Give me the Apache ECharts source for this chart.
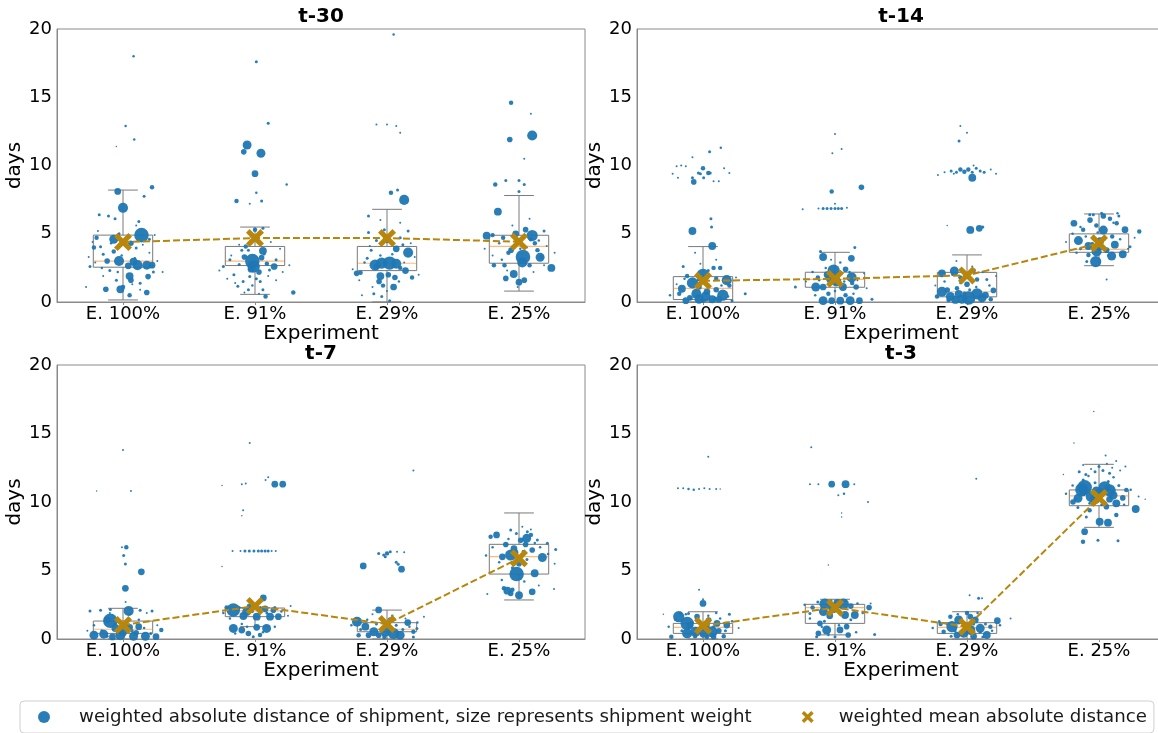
<!DOCTYPE html>
<html><head><meta charset="utf-8">
<script src="https://cdn.jsdelivr.net/npm/echarts@6/dist/echarts.min.js"></script>
<style>html,body{margin:0;padding:0;background:#fff}#c{width:1158px;height:733px}</style>
</head><body><div id="c"></div>
<script>
// ---------- DATA ----------
const categories = ['E. 100%', 'E. 91%', 'E. 29%', 'E. 25%'];
const panelTitles = ['t-30', 't-14', 't-7', 't-3'];
const yMin = 0, yMax = 20, yStep = 5;
const xAxisTitle = 'Experiment';
const yAxisTitle = 'days';
const pointsName = 'weighted absolute distance of shipment, size represents shipment weight';
const meanName = 'weighted mean absolute distance';

// box stats per experiment: [whiskerLow, Q1, median, Q3, whiskerHigh]
const boxT30 = [[0.15,2.55,3.0,4.9,8.2],[0.56,2.67,3.0,4.07,5.49],[0.0,2.3,2.84,4.07,6.79],[0.8,2.84,4.08,4.89,7.8]];
const boxT14 = [[0.0,0.18,1.0,1.86,4.06],[0.0,1.08,1.66,2.18,3.64],[0.0,0.38,0.75,2.17,3.45],[2.66,3.64,3.86,4.99,6.45]];
const boxT7  = [[0.0,0.41,0.71,1.31,2.24],[0.9,1.63,2.06,2.26,2.3],[0.0,0.53,0.71,1.19,2.11],[2.85,4.74,6.01,6.91,9.2]];
const boxT3  = [[0.0,0.41,0.85,1.14,1.99],[0.3,1.14,2.29,2.53,2.9],[0.0,0.41,0.85,1.19,1.99],[8.15,9.73,10.44,10.88,12.75]];

// weighted mean absolute distance per experiment
const meanT30 = [4.39, 4.68, 4.68, 4.42];
const meanT14 = [1.55, 1.7, 1.95, 4.3];
const meanT7  = [1.02, 2.4, 1.09, 5.89];
const meanT3  = [0.97, 2.29, 0.9, 10.3];

// shipments: [experimentIndex, jitter, days, weightSize]
const ptsT30 = [
[0,0.14,4.9,13],[0,0.0,6.9,9],[0,-0.04,8.1,6],[0,-0.07,4.6,8],[0,-0.03,3.0,9],[0,0.08,2.95,7],[0,0.11,2.7,9],[0,0.18,2.7,8],[0,0.22,2.7,6],[0,0.04,2.65,6],[0,-0.12,3.0,5],[0,0.05,1.9,7],[0,0.06,1.6,5],[0,-0.02,0.93,7],[0,-0.13,0.93,5],[0,0.18,0.7,5],[0,0.05,0.5,4],[0,0.22,8.4,4],[0,0.16,7.75,3],[0,0.19,1.86,5],[0,-0.22,4.0,4],[0,-0.18,6.4,3],[0,-0.11,6.3,3],[0,-0.06,6.1,3],[0,0.12,5.9,3],[0,-0.17,4.05,3],[0,-0.15,3.5,3],[0,-0.07,3.7,4],[0,-0.1,2.3,3],[0,-0.05,1.6,3],[0,0.0,1.1,4],[0,0.13,1.38,3],[0,0.23,2.2,3],[0,0.1,3.95,3],[0,0.08,18.0,2.5],[0,0.02,12.9,2.5],[0,0.085,11.9,2.5],[0,-0.05,11.4,1.5],[0,-0.2,4.7,4],[0,-0.25,2.6,3],[0,0.06,4.3,5],[0,-0.03,5.0,3],[0,0.2,4.6,3],[0,-0.28,1.1,2],[0,0.3,2.2,2],
[1,-0.02,3.0,13],[1,-0.01,2.6,11],[1,-0.06,11.5,8],[1,-0.085,11.0,5],[1,0.045,10.9,8],[1,0.0,9.4,6],[1,0.1,13.1,3],[1,0.01,17.6,3],[1,0.24,8.6,2.5],[1,-0.14,7.4,4],[1,-0.04,7.2,2],[1,0.05,7.4,3],[1,0.01,8.0,2.5],[1,0.06,3.75,7],[1,0.05,3.25,5],[1,0.145,2.6,6],[1,-0.08,3.3,5],[1,0.0,5.3,4],[1,0.06,5.4,3],[1,-0.07,4.07,4],[1,-0.16,2.0,3],[1,-0.13,1.15,3],[1,-0.09,1.5,3],[1,-0.04,1.86,3],[1,0.06,0.9,3],[1,0.08,0.4,4],[1,0.29,0.7,4],[1,0.04,1.5,3],[1,0.11,2.35,3],[1,0.16,3.1,3],[1,-0.24,2.6,3],[1,-0.19,3.1,3],[1,-0.1,3.8,3],[1,-0.05,3.8,3],[1,0.01,1.7,3],[1,-0.05,0.9,3],[1,0.03,2.2,5],[1,-0.03,2.4,6],[1,0.09,2.8,4],[1,-0.12,2.75,3],
[2,-0.04,2.85,10],[2,0.02,2.85,12],[2,0.07,2.8,9],[2,-0.09,2.7,10],[2,0.16,3.62,9],[2,0.13,7.48,9],[2,0.07,3.9,6],[2,-0.05,1.9,7],[2,-0.08,2.6,5],[2,-0.23,2.1,5],[2,-0.2,2.15,4],[2,0.05,1.1,6],[2,0.14,2.3,6],[2,0.19,1.8,4],[2,0.03,8.0,4],[2,0.08,8.2,3],[2,-0.14,6.3,3],[2,-0.06,1.5,5],[2,-0.03,1.2,4],[2,0.06,1.8,5],[2,0.01,2.0,5],[2,-0.12,3.8,3],[2,-0.08,4.5,3],[2,-0.02,5.3,3],[2,0.1,4.7,3],[2,-0.14,5.1,3],[2,0.16,5.2,3],[2,-0.1,0.6,3],[2,-0.04,0.4,3],[2,0.05,19.6,2.5],[2,-0.08,13.0,2],[2,0.0,13.0,2],[2,0.07,12.9,2],[2,0.1,12.4,2],[2,0.02,0.1,3],[2,0.1,2.5,4],[2,-0.15,3.2,3],[2,0.12,4.2,3],
[3,0.03,3.3,13],[3,0.025,2.9,9],[3,0.1,4.87,10],[3,0.16,3.28,8],[3,-0.04,2.05,7],[3,-0.16,6.62,7],[3,-0.245,4.86,7],[3,0.245,2.5,7],[3,0.0,1.45,6],[3,-0.1,1.73,5],[3,0.04,1.6,5],[3,-0.06,3.8,5],[3,-0.08,3.6,4],[3,0.05,5.3,5],[3,-0.025,5.0,6],[3,-0.12,4.7,4],[3,-0.18,8.6,4],[3,-0.1,8.9,3],[3,0.0,8.9,3],[3,0.04,8.6,3],[3,0.0,8.1,3],[3,0.09,4.6,4],[3,0.14,3.8,4],[3,0.19,5.2,3],[3,-0.19,2.7,4],[3,-0.11,2.7,4],[3,0.08,2.7,4],[3,-0.06,14.6,4],[3,0.1,12.2,9],[3,-0.07,11.9,5],[3,0.09,13.8,2],[3,0.04,10.5,2],[3,-0.2,4.9,4],[3,0.0,4.5,4],[3,0.12,4.3,4],[3,0.17,3.3,4]
];
const smallT30 = [
[0,-0.26,3.3,2],[0,-0.21,2.9,2],[0,-0.16,2.5,2.5],[0,-0.09,4.3,2.5],[0,-0.01,3.4,2.5],[0,0.03,4.1,2],[0,0.09,3.2,2.5],[0,0.15,4.2,2],[0,0.2,3.6,2],[0,0.26,3.0,2],[0,-0.19,5.2,2],[0,0.1,5.6,2],[0,-0.04,2.2,2.5],[0,0.07,1.3,2],[0,-0.15,1.9,2],[0,0.13,0.9,2],[0,0.24,4.9,2],[0,-0.23,4.4,2],
[1,-0.27,2.3,2],[1,-0.21,1.7,2],[1,-0.15,1.4,2],[1,-0.08,0.7,2],[1,-0.02,1.2,2.5],[1,0.03,0.6,2],[1,0.1,1.9,2],[1,0.16,1.6,2],[1,0.21,2.2,2],[1,0.26,2.7,2],[1,-0.12,4.2,2],[1,0.12,4.4,2],[1,-0.03,4.8,2.5],[1,0.07,3.5,2.5],[1,-0.18,3.4,2],[1,0.19,3.9,2],
[2,-0.26,2.4,2],[2,-0.21,1.6,2],[2,-0.17,2.9,2.5],[2,-0.11,1.1,2],[2,-0.05,3.4,2.5],[2,0.0,0.8,2],[2,0.04,3.5,2.5],[2,0.09,1.5,2.5],[2,0.13,2.9,2],[2,0.18,4.3,2],[2,0.24,2.0,2],[2,-0.13,4.1,2],[2,0.0,4.4,2.5],[2,-0.05,6.0,2],[2,0.1,5.8,2],[2,0.21,3.3,2],[2,-0.19,0.5,2],
[3,-0.26,3.9,2],[3,-0.2,3.4,2],[3,-0.15,4.3,2.5],[3,-0.09,2.3,2],[3,-0.03,4.2,2.5],[3,0.01,3.9,2.5],[3,0.06,4.0,2],[3,0.11,2.2,2],[3,0.15,4.5,2.5],[3,0.21,4.1,2],[3,0.27,3.6,2],[3,-0.05,5.6,2],[3,0.08,6.1,2],[3,-0.13,3.1,2.5],[3,0.19,2.7,2],[3,-0.01,1.1,2]
];
const ptsT14 = [
[0,0.0,1.95,12],[0,-0.08,1.4,10],[0,0.18,1.6,9],[0,0.15,0.5,10],[0,-0.16,0.97,7],[0,-0.05,0.6,9],[0,0.02,0.4,9],[0,-0.03,0.2,8],[0,-0.13,0.1,6],[0,0.07,0.2,7],[0,-0.08,5.2,7],[0,0.07,4.1,7],[0,0.06,6.1,3],[0,0.065,5.5,3],[0,0.03,0.75,6],[0,0.1,0.9,5],[0,0.08,2.5,4],[0,0.13,2.5,4],[0,0.04,2.3,3],[0,-0.12,1.9,4],[0,0.32,0.6,3],[0,-0.15,2.6,3],[0,-0.2,9.95,2],[0,-0.165,10.0,2],[0,-0.13,9.95,2],[0,0.0,9.8,4],[0,0.04,9.45,4],[0,0.055,9.45,3],[0,-0.02,9.4,3],[0,-0.035,9.45,3],[0,-0.07,8.8,5],[0,-0.23,9.4,2],[0,-0.19,9.1,2],[0,-0.08,9.1,3],[0,0.005,9.1,3],[0,0.08,8.85,2],[0,0.12,8.85,2],[0,0.16,9.8,2],[0,0.2,9.45,2],[0,0.05,11.0,3],[0,0.135,11.3,2.5],[0,-0.08,10.6,2],[0,-0.1,0.3,5],[0,0.12,0.2,6],[0,-0.18,0.6,4],[0,0.2,1.2,4],[0,-0.03,1.1,5],[0,0.1,1.7,4],
[1,-0.01,2.3,11],[1,-0.025,1.7,10],[1,0.01,1.5,9],[1,-0.09,3.3,7],[1,0.124,3.2,6],[1,0.126,1.8,9],[1,-0.146,1.1,8],[1,-0.09,1.1,6],[1,0.06,1.1,7],[1,0.16,1.1,5],[1,-0.09,0.1,8],[1,0.04,0.1,7],[1,0.115,0.1,8],[1,-0.025,0.1,6],[1,0.185,0.1,6],[1,-0.11,3.7,3],[1,0.15,4.0,3],[1,0.2,8.4,5],[1,-0.025,8.1,4],[1,-0.125,6.85,2],[1,-0.09,6.85,3],[1,-0.06,6.85,3],[1,-0.03,6.85,3],[1,0.0,6.85,3],[1,0.025,6.85,3],[1,0.05,6.85,3],[1,0.09,6.9,2],[1,-0.245,6.8,2],[1,0.0,7.2,2],[1,-0.02,10.9,2],[1,0.05,11.2,2],[1,0.0,12.3,2],[1,-0.3,1.1,3],[1,0.28,0.2,3],[1,-0.06,2.0,6],[1,0.08,2.4,5],[1,0.13,1.4,4],[1,-0.13,1.8,4],[1,-0.05,0.6,4],[1,0.08,0.5,4],
[2,0.025,5.28,7],[2,0.093,5.4,6],[2,0.12,5.5,3],[2,-0.096,2.27,8],[2,-0.19,2.1,7],[2,0.05,2.3,4],[2,0.076,1.65,4],[2,0.15,1.65,3],[2,-0.15,0.88,5],[2,-0.076,1.0,4],[2,-0.19,0.75,9],[2,-0.126,0.4,8],[2,-0.063,0.6,7],[2,0.013,0.3,12],[2,0.076,0.6,10],[2,0.114,0.3,8],[2,-0.038,0.2,8],[2,-0.088,0.15,7],[2,0.14,0.5,6],[2,0.2,0.85,5],[2,-0.227,0.4,4],
[2,-0.22,9.3,2],[2,-0.17,9.5,2],[2,-0.12,9.6,3],[2,-0.08,9.5,3],[2,-0.05,9.7,4],[2,-0.02,9.55,4],[2,0.01,9.7,4],[2,0.04,9.5,3],[2,0.07,9.8,3],[2,0.1,9.6,3],[2,0.13,9.5,3],[2,0.18,9.7,2],[2,0.22,9.4,2],[2,0.04,9.1,7],[2,-0.1,9.4,2],[2,0.05,10.0,2],[2,-0.05,12.9,2],[2,0.0,12.4,2],[2,-0.06,11.8,3],[2,-0.15,5.6,1.5],[2,0.0,1.3,5],[2,-0.05,1.8,4],
[3,-0.025,2.96,10],[3,0.096,3.37,8],[3,0.18,3.5,7],[3,-0.156,4.5,8],[3,-0.08,4.1,7],[3,-0.018,3.7,9],[3,0.033,5.27,8],[3,0.12,4.2,7],[3,0.008,4.45,7],[3,0.197,5.3,6],[3,-0.19,5.77,6],[3,0.305,5.16,4],[3,-0.068,6.0,5],[3,0.083,6.1,4],[3,-0.043,6.4,3],[3,0.134,5.77,4],[3,0.058,3.8,5],[3,-0.093,2.96,3],[3,-0.08,3.45,4],[3,0.058,1.65,2],[3,0.235,4.05,3],[3,0.033,6.3,5],[3,-0.12,5.3,4],[3,0.15,6.3,3],[3,-0.02,5.6,4],[3,0.1,4.8,4],[3,-0.14,3.9,3],[3,0.0,4.0,6]
];
const smallT14 = [
[0,-0.25,0.5,2.5],[0,-0.2,1.3,2],[0,-0.14,1.7,2.5],[0,-0.09,0.3,3],[0,-0.04,1.6,2.5],[0,0.04,1.3,2.5],[0,0.09,0.3,3],[0,0.14,1.2,2.5],[0,0.19,0.4,2.5],[0,0.25,1.8,2],[0,-0.02,2.8,2],[0,0.1,3.1,2],[0,-0.06,3.6,2],[0,0.0,0.1,4],[0,0.22,0.1,3],
[1,-0.22,1.5,2],[1,-0.17,2.2,2.5],[1,-0.12,1.6,2.5],[1,-0.07,2.5,2.5],[1,0.03,1.9,2.5],[1,0.07,1.5,2.5],[1,0.11,2.2,2.5],[1,0.17,1.6,2],[1,0.22,2.1,2],[1,-0.15,0.5,2.5],[1,0.0,0.8,2.5],[1,0.14,0.6,2.5],[1,-0.03,3.1,2],[1,0.04,2.9,2.5],[1,0.24,1.0,2],
[2,-0.24,1.2,2],[2,-0.17,1.5,2.5],[2,-0.11,2.0,2.5],[2,-0.05,1.4,2.5],[2,0.02,0.9,3],[2,0.07,1.1,2.5],[2,0.12,2.2,2.5],[2,0.17,1.2,2.5],[2,0.22,1.9,2],[2,-0.14,0.15,4],[2,-0.02,0.6,4],[2,0.18,0.2,4],[2,0.04,2.6,2],[2,-0.08,3.0,2],
[3,-0.25,4.4,2],[3,-0.2,5.0,2.5],[3,-0.14,5.5,2.5],[3,-0.1,4.8,2.5],[3,-0.05,4.3,3],[3,-0.01,5.1,2.5],[3,0.04,4.6,3],[3,0.07,3.4,2.5],[3,0.11,5.8,2.5],[3,0.16,4.6,2.5],[3,0.22,3.9,2],[3,0.27,4.7,2],[3,-0.17,3.6,2.5],[3,0.14,6.5,2.5],[3,-0.07,6.4,3],[3,0.02,6.5,3]
];
const ptsT7 = [
[0,-0.096,1.33,13],[0,0.043,2.05,9],[0,0.018,3.7,6],[0,0.139,4.9,6],[0,0.018,5.47,3],[0,0.005,6.1,3],[0,0.025,6.7,4],[0,-0.008,6.7,2],[0,0.17,0.2,8],[0,0.25,0.17,6],[0,-0.22,0.28,8],[0,-0.146,0.35,8],[0,-0.02,0.28,9],[0,0.08,0.2,8],[0,-0.058,0.8,7],[0,-0.12,1.38,6],[0,0.119,0.9,6],[0,0.05,0.85,6],[0,0.29,0.65,4],[0,-0.25,2.05,3],[0,-0.17,2.1,3],[0,-0.096,2.15,3],[0,0.13,2.1,3],[0,0.22,2.05,3],[0,0.0,13.8,2],[0,-0.2,10.8,1.5],[0,0.06,10.8,2],[0,0.02,2.7,2],[0,0.0,0.5,7],[0,-0.08,0.15,6],[0,0.1,0.45,5],
[1,-0.164,2.11,12],[1,-0.063,2.0,8],[1,0.063,3.0,6],[1,-0.088,1.68,7],[1,0.013,1.63,7],[1,0.114,1.63,7],[1,0.177,1.63,6],[1,-0.164,0.77,8],[1,-0.1,0.65,6],[1,0.088,0.77,8],[1,0.013,0.85,6],[1,-0.05,0.4,5],[1,0.038,0.3,4],[1,-0.013,0.17,3],[1,-0.038,2.35,6],[1,0.076,2.2,6],[1,0.139,2.1,5],[1,-0.215,2.3,4],
[1,-0.17,6.42,2],[1,-0.11,6.42,2],[1,-0.076,6.42,3],[1,-0.043,6.42,3],[1,-0.008,6.42,3],[1,0.025,6.42,3],[1,0.05,6.42,3],[1,0.076,6.42,3],[1,0.1,6.42,3],[1,0.126,6.42,2],[1,0.157,6.42,2],
[1,0.15,11.3,6],[1,0.21,11.3,6],[1,-0.1,11.3,2],[1,-0.07,11.35,2],[1,0.08,11.6,2],[1,0.1,11.8,2],[1,-0.25,11.2,1.5],[1,-0.04,14.3,2],[1,-0.09,9.4,2],[1,-0.1,9.0,1.5],[1,-0.25,5.3,1.5],
[2,-0.18,5.33,6],[2,0.11,5.1,6],[2,-0.063,2.12,6],[2,-0.227,1.26,9],[2,-0.164,0.9,7],[2,-0.1,0.53,8],[2,-0.013,0.53,9],[2,0.05,0.4,10],[2,0.1,0.28,8],[2,0.157,1.2,6],[2,0.2,0.53,4],[2,-0.063,0.28,5],[2,-0.14,0.28,5],[2,0.025,1.38,5],[2,0.227,0.77,3],[2,0.28,1.63,2],[2,-0.215,0.28,4],
[2,-0.063,6.25,3],[2,-0.025,6.13,3],[2,0.0,6.25,4],[2,0.025,6.37,3],[2,0.076,6.37,2],[2,0.13,6.33,2],[2,-0.013,6.0,3],[2,0.07,5.6,3],[2,0.085,5.45,3],[2,0.2,12.3,2],
[3,-0.018,4.74,13],[3,-0.063,6.13,10],[3,0.177,5.95,8],[3,0.119,4.8,7],[3,-0.17,7.6,6],[3,-0.1,6.9,5],[3,-0.038,6.6,6],[3,0.058,7.35,8],[3,0.1,6.5,5],[3,-0.126,6.0,6],[3,0.0,5.5,5],[3,0.013,7.2,5],[3,-0.088,3.53,7],[3,-0.063,3.33,5],[3,0.0,3.2,7],[3,0.1,3.45,6],[3,-0.114,3.7,4],[3,-0.215,7.47,4],[3,0.139,7.23,3],[3,0.215,6.98,3],[3,0.278,6.54,3],[3,-0.063,7.95,3],[3,0.063,7.83,3],[3,0.025,8.2,2],[3,-0.24,3.28,2],[3,0.265,3.65,2],[3,0.05,6.9,5],[3,-0.03,6.3,6],[3,0.09,7.6,4],[3,-0.05,3.6,4]
];
const smallT7 = [
[0,-0.27,0.6,2],[0,-0.22,1.0,2.5],[0,-0.16,0.6,3],[0,-0.12,0.2,3],[0,-0.06,1.1,2.5],[0,-0.03,0.5,3],[0,0.03,1.3,2.5],[0,0.07,0.6,3],[0,0.12,1.4,2.5],[0,0.16,0.8,2.5],[0,0.21,0.4,3],[0,0.26,1.0,2],[0,0.05,1.8,2.5],[0,-0.1,1.9,2],[0,0.18,1.9,2],
[1,-0.24,1.9,2.5],[1,-0.19,1.5,2.5],[1,-0.12,2.3,3],[1,-0.1,1.1,2.5],[1,-0.02,2.0,3],[1,0.04,2.3,3],[1,0.09,1.9,3],[1,0.15,2.3,3],[1,0.2,2.0,2.5],[1,0.25,1.7,2],[1,-0.06,0.9,2.5],[1,0.06,0.5,2.5],[1,0.15,0.9,2.5],[1,-0.15,0.4,2.5],[1,0.27,2.4,2],
[2,-0.27,1.0,2.5],[2,-0.2,0.7,3],[2,-0.15,1.4,2.5],[2,-0.08,1.1,3],[2,-0.04,0.8,3],[2,0.01,0.9,3],[2,0.07,1.0,3],[2,0.12,0.7,3],[2,0.17,0.9,2.5],[2,0.23,1.2,2.5],[2,-0.11,1.8,2],[2,0.04,1.7,2.5],[2,0.14,1.5,2],[2,-0.02,0.15,4],[2,0.2,0.15,3],
[3,-0.25,6.1,2.5],[3,-0.2,6.7,2.5],[3,-0.15,5.6,2.5],[3,-0.08,7.3,2.5],[3,-0.05,5.2,3],[3,0.03,6.4,2.5],[3,0.06,5.8,3],[3,0.12,7.0,2.5],[3,0.16,6.7,2.5],[3,0.22,6.2,2.5],[3,0.27,5.5,2],[3,-0.13,4.3,2.5],[3,0.04,4.2,2.5],[3,0.15,3.9,2],[3,-0.02,7.7,3],[3,0.09,8.0,2]
];
const ptsT3 = [
[0,-0.184,1.63,10],[0,-0.12,1.14,12],[0,-0.12,0.41,9],[0,-0.058,0.53,9],[0,0.005,0.41,8],[0,0.068,0.53,10],[0,0.0,2.6,6],[0,0.106,1.14,6],[0,0.18,1.02,6],[0,0.043,1.39,5],[0,0.08,0.17,5],[0,-0.24,0.17,4],[0,0.157,0.2,4],[0,-0.045,1.63,5],[0,-0.11,1.87,3],
[0,-0.19,11.0,2],[0,-0.15,11.0,2],[0,-0.11,10.95,2.5],[0,-0.07,10.9,2.5],[0,-0.03,10.95,2],[0,0.01,11.0,2],[0,0.05,10.95,2],[0,0.1,10.95,2],[0,0.13,10.95,1.5],[0,0.04,13.3,2],[0,-0.03,3.6,2],[0,0.0,2.9,2],[0,-0.3,1.8,1.5],[0,-0.1,1.0,6],[0,0.02,0.9,7],[0,0.12,0.6,5],[0,0.2,1.8,3],[0,-0.17,1.9,3],
[1,-0.076,2.55,10],[1,0.063,2.55,10],[1,-0.013,2.25,9],[1,-0.088,2.0,8],[1,0.076,1.75,7],[1,0.15,1.75,7],[1,0.258,2.3,5],[1,-0.114,1.14,5],[1,-0.063,0.66,8],[1,0.038,0.66,6],[1,-0.126,0.41,5],[1,0.088,0.9,5],[1,0.1,0.29,5],[1,0.0,0.17,3],[1,0.3,0.33,3],[1,-0.139,0.17,3],[1,-0.19,1.87,3],
[1,-0.025,11.3,6],[1,0.08,11.3,7],[1,-0.19,11.3,2],[1,-0.126,11.3,2],[1,0.146,11.3,2],[1,0.025,10.5,2],[1,0.068,10.6,2.5],[1,0.25,10.0,2],[1,0.05,9.2,1.5],[1,0.05,8.9,1.5],[1,-0.05,5.4,1.5],[1,-0.18,14.0,2],[1,0.02,2.6,8],[1,-0.04,1.7,6],[1,0.12,2.4,5],[1,-0.17,2.3,4],
[2,-0.114,0.9,10],[2,-0.063,1.39,8],[2,0.025,0.66,9],[2,-0.025,0.41,8],[2,0.1,0.78,8],[2,0.15,0.29,7],[2,0.23,1.34,6],[2,-0.076,0.29,6],[2,0.063,1.39,6],[2,0.025,1.63,5],[2,0.088,2.97,3],[2,0.114,2.97,2],[2,0.33,1.5,2],[2,-0.177,0.53,4],[2,0.177,0.9,4],[2,-0.126,1.63,4],[2,0.07,11.7,2],[2,0.02,3.2,2],[2,-0.2,1.1,4],[2,0.0,1.9,4],[2,0.05,0.2,6],
[3,-0.109,11.07,13],[3,0.043,11.07,11],[3,-0.058,10.39,10],[3,-0.159,10.27,8],[3,0.005,10.63,9],[3,0.106,10.5,8],[3,0.131,9.9,7],[3,0.278,9.49,7],[3,0.005,8.56,7],[3,0.068,8.49,7],[3,-0.109,7.83,6],[3,-0.121,7.1,4],[3,-0.008,7.2,3],[3,0.144,7.18,3],[3,0.056,9.66,5],[3,0.131,9.05,4],[3,-0.071,9.4,4],[3,-0.197,10.0,5],[3,0.207,10.88,4],[3,-0.096,8.9,3],
[3,-0.15,12.2,3],[3,-0.1,12.0,3],[3,-0.06,12.4,2],[3,-0.03,12.2,3],[3,0.0,12.6,3],[3,0.03,12.3,3],[3,0.06,12.8,2],[3,0.08,12.1,3],[3,0.1,12.5,2],[3,0.13,13.0,2],[3,0.16,12.3,2],[3,0.2,12.6,2],[3,-0.12,12.7,2],[3,0.05,13.4,2],[3,-0.04,16.6,1.5],[3,-0.19,14.3,1.5],[3,-0.27,12.0,1.5],[3,0.35,10.2,1.5],[3,-0.02,10.8,8],[3,0.08,10.2,6],[3,-0.12,10.7,6],[3,0.18,10.3,5],[3,-0.13,10.9,12],[3,0.08,10.85,11],[3,-0.03,10.2,9]
];
const smallT3 = [
[0,-0.26,0.9,2.5],[0,-0.21,1.4,2.5],[0,-0.16,0.6,3],[0,-0.08,1.2,3],[0,-0.02,0.7,3],[0,0.04,1.7,2.5],[0,0.08,0.9,3],[0,0.13,1.5,2.5],[0,0.17,0.6,3],[0,0.22,1.3,2.5],[0,0.27,0.8,2],[0,-0.13,1.8,2.5],[0,0.1,1.9,2.5],[0,-0.06,0.2,4],[0,0.03,0.15,4],
[1,-0.23,2.5,2.5],[1,-0.19,1.5,2.5],[1,-0.13,2.7,3],[1,-0.08,1.3,3],[1,-0.03,2.8,3],[1,0.03,2.1,3],[1,0.08,2.8,3],[1,0.12,1.4,3],[1,0.17,2.6,2.5],[1,0.21,1.9,2.5],[1,0.27,2.6,2],[1,-0.1,0.9,2.5],[1,0.03,1.0,2.5],[1,0.16,0.5,2.5],[1,-0.05,0.3,2.5],
[2,-0.26,0.8,2.5],[2,-0.21,1.3,2.5],[2,-0.15,1.1,3],[2,-0.09,0.6,3],[2,-0.04,1.2,3],[2,0.0,0.9,3],[2,0.05,1.1,3],[2,0.1,0.5,3],[2,0.14,1.1,3],[2,0.19,0.6,2.5],[2,0.25,1.0,2.5],[2,-0.07,1.8,2.5],[2,0.08,1.9,2.5],[2,-0.12,0.2,3],[2,0.12,0.15,3],
[3,-0.25,10.6,2.5],[3,-0.2,11.2,2.5],[3,-0.16,9.6,3],[3,-0.12,11.6,3],[3,-0.07,9.9,3],[3,-0.03,11.4,3],[3,0.02,9.8,3],[3,0.07,11.5,3],[3,0.1,10.8,3],[3,0.15,11.2,3],[3,0.19,9.8,2.5],[3,0.24,10.9,2.5],[3,0.3,10.4,2],[3,-0.08,11.9,2.5],[3,0.11,11.8,2.5],[3,-0.18,10.2,3]
];

const panelBoxes = [boxT30, boxT14, boxT7, boxT3];
const panelMeans = [meanT30, meanT14, meanT7, meanT3];
const panelPoints = [ptsT30.concat(smallT30), ptsT14.concat(smallT14), ptsT7.concat(smallT7), ptsT3.concat(smallT3)];

// ---------- STYLE / LAYOUT ----------
const FONT = 'DejaVu Sans';
const BLUE = '#1f77b4';
const GOLD = '#b8860b';
const FRAME = '#8a8a8a';
const SIZE_SCALE = 1.12;
const XMARK = 'path://M2,0 L5,3 L8,0 L10,2 L7,5 L10,8 L8,10 L5,7 L2,10 L0,8 L3,5 L0,2 Z';
const GRIDS = [
  {left: 57, top: 29, width: 528, height: 273},
  {left: 637, top: 29, width: 528, height: 273},
  {left: 57, top: 365, width: 528, height: 274},
  {left: 637, top: 365, width: 528, height: 274}
];
const titleTops = [7, 344];

function renderBox(params, api) {
  const x = api.value(0);
  const pLo = api.coord([x, api.value(1)]);
  const pQ1 = api.coord([x, api.value(2)]);
  const pMed = api.coord([x, api.value(3)]);
  const pQ3 = api.coord([x, api.value(4)]);
  const pHi = api.coord([x, api.value(5)]);
  const hw = api.size([0.225, 0])[0];
  const cw = api.size([0.1125, 0])[0];
  const cx = pLo[0];
  const st = {stroke: '#7a7a7a', lineWidth: 1, fill: 'none'};
  return {type: 'group', children: [
    {type: 'line', shape: {x1: cx, y1: pLo[1], x2: cx, y2: pQ1[1]}, style: st},
    {type: 'line', shape: {x1: cx, y1: pQ3[1], x2: cx, y2: pHi[1]}, style: st},
    {type: 'line', shape: {x1: cx - cw, y1: pLo[1], x2: cx + cw, y2: pLo[1]}, style: st},
    {type: 'line', shape: {x1: cx - cw, y1: pHi[1], x2: cx + cw, y2: pHi[1]}, style: st},
    {type: 'rect', shape: {x: cx - hw, y: pQ3[1], width: 2 * hw, height: pQ1[1] - pQ3[1]}, style: st},
    {type: 'line', shape: {x1: cx - hw, y1: pMed[1], x2: cx + hw, y2: pMed[1]}, style: {stroke: 'rgba(255,127,14,0.55)', lineWidth: 1.2}}
  ]};
}

const grid = GRIDS.map(g => Object.assign({show: true, borderColor: FRAME, borderWidth: 1, backgroundColor: 'transparent', outerBoundsMode: 'none', containLabel: false}, g));

const xAxis = [];
const yAxis = [];
const series = [];
const title = [];
panelTitles.forEach((t, i) => {
  const g = GRIDS[i];
  title.push({text: t, left: g.left + g.width / 2, top: titleTops[i < 2 ? 0 : 1], textAlign: 'center', padding: 0,
    textStyle: {fontFamily: FONT, fontSize: 20, fontWeight: 'bold', color: '#000'}});
  xAxis.push({type: 'category', gridIndex: i, data: categories, boundaryGap: true,
    name: xAxisTitle, nameLocation: 'middle', nameGap: 21,
    nameTextStyle: {fontFamily: FONT, fontSize: 20, color: '#000'},
    axisLine: {show: true, lineStyle: {color: FRAME}},
    axisTick: {show: true, alignWithLabel: true, length: 3, lineStyle: {color: FRAME}},
    axisLabel: {fontFamily: FONT, fontSize: 18, color: '#000', margin: 3},
    splitLine: {show: false}});
  xAxis.push({type: 'value', gridIndex: i, min: 0, max: categories.length, show: false, splitLine: {show: false}});
  yAxis.push({type: 'value', gridIndex: i, min: yMin, max: yMax, interval: yStep,
    name: yAxisTitle, nameLocation: 'middle', nameGap: 27,
    nameTextStyle: {fontFamily: FONT, fontSize: 20, color: '#000'},
    axisLine: {show: true, lineStyle: {color: FRAME}},
    axisTick: {show: false},
    axisLabel: {fontFamily: FONT, fontSize: 18, color: '#000', margin: 5},
    splitLine: {show: false}});

  series.push({type: 'custom', xAxisIndex: 2 * i + 1, yAxisIndex: i, renderItem: renderBox, silent: true, z: 1,
    encode: {x: 0, y: [1, 2, 3, 4, 5]},
    data: panelBoxes[i].map((b, k) => [k + 0.5].concat(b))});
  series.push({type: 'scatter', name: pointsName, xAxisIndex: 2 * i + 1, yAxisIndex: i, z: 2,
    symbol: 'circle', symbolSize: v => v[2] > 3 ? v[2] * SIZE_SCALE : v[2],
    itemStyle: {color: BLUE, opacity: 0.95},
    data: panelPoints[i].map(p => [p[0] + 0.5 + p[1], p[2], p[3]])});
  series.push({type: 'line', name: meanName, xAxisIndex: 2 * i + 1, yAxisIndex: i, z: 3,
    symbol: XMARK, symbolSize: 18, showAllSymbol: true,
    lineStyle: {color: GOLD, width: 2, type: [7, 3]},
    itemStyle: {color: GOLD},
    data: panelMeans[i].map((m, k) => [k + 0.5, m])});
});

const chart = echarts.init(document.getElementById('c'), null, {renderer: 'canvas'});
chart.setOption({
  animation: false,
  backgroundColor: '#fff',
  textStyle: {fontFamily: FONT},
  title: title,
  grid: grid,
  xAxis: xAxis,
  yAxis: yAxis,
  legend: {
    left: 20, top: 701, orient: 'horizontal',
    padding: [7, 7, 7, 18], itemGap: 50, itemWidth: 12, itemHeight: 12,
    borderColor: '#d0d0d0', borderWidth: 1, borderRadius: 4,
    selectedMode: false,
    textStyle: {fontFamily: FONT, fontSize: 18.2, color: '#1a1a1a', padding: [0, 0, 0, 24]},
    data: [
      {name: pointsName, icon: 'circle', itemStyle: {color: BLUE}},
      {name: meanName, icon: XMARK, itemStyle: {color: GOLD}, textStyle: {padding: [0, 0, 0, 20]}}
    ]
  },
  tooltip: {show: false},
  series: series
});
</script>
</body></html>
